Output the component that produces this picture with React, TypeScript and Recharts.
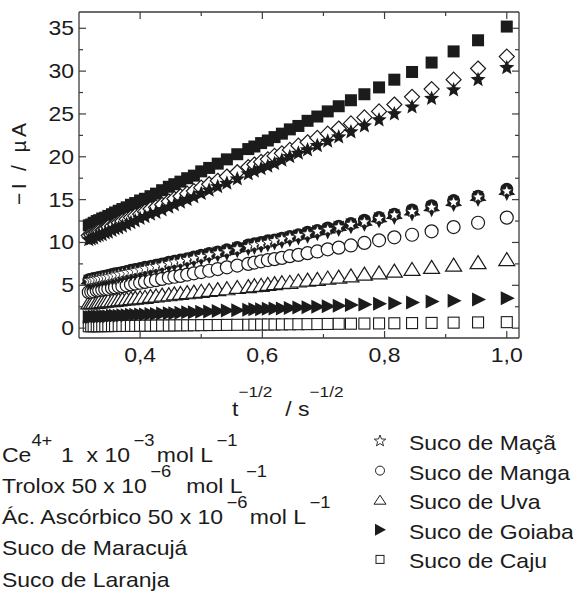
import React from "react";
import { ScatterChart, Scatter, XAxis, YAxis, ReferenceLine } from "recharts";

// t^-1/2 (s^-1/2), from t = 1 s down to t = 10 s
const xVals = [
  1.0, 0.953, 0.913, 0.877, 0.845, 0.816, 0.791, 0.767, 0.745, 0.725, 0.707, 0.69, 0.674, 0.659, 0.645, 0.632, 0.62,
  0.609, 0.598, 0.587, 0.577, 0.559, 0.542, 0.527, 0.513, 0.5, 0.488, 0.477, 0.466, 0.456, 0.447, 0.436, 0.426, 0.417,
  0.408, 0.4, 0.392, 0.385, 0.378, 0.371, 0.365, 0.359, 0.354, 0.348, 0.343, 0.338, 0.333, 0.329, 0.324, 0.32, 0.316,
];

// -I (µA)
const ce = [
  35.2, 33.6, 32.3, 31.0, 29.9, 29.0, 28.1, 27.3, 26.6, 25.9, 25.3, 24.7, 24.2, 23.6, 23.2, 22.7, 22.3, 21.9, 21.6,
  21.2, 20.9, 20.3, 19.7, 19.2, 18.7, 18.3, 17.8, 17.5, 17.1, 16.8, 16.5, 16.1, 15.7, 15.4, 15.1, 14.9, 14.6, 14.4,
  14.1, 13.9, 13.7, 13.5, 13.3, 13.1, 12.9, 12.8, 12.6, 12.5, 12.3, 12.1, 12.0,
];
const trolox = [
  31.7, 30.3, 29.0, 27.9, 27.0, 26.1, 25.3, 24.6, 23.9, 23.3, 22.7, 22.2, 21.7, 21.3, 20.8, 20.4, 20.1, 19.7, 19.4,
  19.1, 18.8, 18.2, 17.7, 17.2, 16.8, 16.4, 16.0, 15.7, 15.4, 15.1, 14.8, 14.4, 14.1, 13.9, 13.6, 13.3, 13.1, 12.9,
  12.7, 12.5, 12.3, 12.1, 11.9, 11.8, 11.6, 11.4, 11.3, 11.2, 11.0, 10.9, 10.8,
];
const ascorbico = [
  30.4, 29.0, 27.8, 26.8, 25.8, 25.0, 24.3, 23.6, 22.9, 22.3, 21.8, 21.3, 20.8, 20.4, 20.0, 19.6, 19.2, 18.9, 18.6,
  18.3, 18.0, 17.4, 16.9, 16.5, 16.1, 15.7, 15.3, 15.0, 14.7, 14.4, 14.1, 13.8, 13.5, 13.3, 13.0, 12.8, 12.5, 12.3,
  12.1, 11.9, 11.7, 11.6, 11.4, 11.2, 11.1, 10.9, 10.8, 10.7, 10.5, 10.4, 10.3,
];
const maracuja = [
  16.2, 15.4, 14.9, 14.3, 13.8, 13.3, 12.9, 12.6, 12.2, 11.9, 11.7, 11.4, 11.2, 10.9, 10.7, 10.5, 10.3, 10.2, 10.0,
  9.85, 9.7, 9.4, 9.15, 8.9, 8.7, 8.5, 8.3, 8.1, 7.95, 7.8, 7.7, 7.5, 7.35, 7.2, 7.1, 6.95, 6.85, 6.75, 6.6, 6.5, 6.4,
  6.35, 6.25, 6.15, 6.05, 6.0, 5.9, 5.85, 5.8, 5.7, 5.65,
];
const laranja = [
  15.9, 15.2, 14.6, 14.0, 13.5, 13.1, 12.7, 12.3, 12.0, 11.7, 11.4, 11.2, 10.9, 10.7, 10.5, 10.3, 10.1, 9.9, 9.75,
  9.6, 9.45, 9.2, 8.9, 8.7, 8.5, 8.3, 8.1, 7.9, 7.75, 7.6, 7.45, 7.3, 7.15, 7.0, 6.85, 6.75, 6.6, 6.5, 6.4, 6.3, 6.2,
  6.1, 6.05, 5.95, 5.85, 5.8, 5.7, 5.65, 5.6, 5.5, 5.45,
];
const maca = [
  16.0, 15.3, 14.7, 14.1, 13.6, 13.2, 12.8, 12.4, 12.1, 11.8, 11.5, 11.3, 11.0, 10.8, 10.6, 10.4, 10.2, 10.0, 9.85,
  9.7, 9.5, 9.25, 9.0, 8.75, 8.55, 8.35, 8.15, 8.0, 7.8, 7.7, 7.55, 7.35, 7.2, 7.1, 6.95, 6.8, 6.7, 6.6, 6.5, 6.4, 6.3,
  6.2, 6.1, 6.0, 5.95, 5.9, 5.8, 5.75, 5.65, 5.6, 5.55,
];
const manga = [
  12.9, 12.3, 11.8, 11.3, 10.9, 10.6, 10.25, 9.95, 9.65, 9.4, 9.2, 8.95, 8.75, 8.55, 8.4, 8.2, 8.05, 7.95, 7.8, 7.65,
  7.5, 7.3, 7.1, 6.9, 6.7, 6.55, 6.4, 6.25, 6.1, 6.0, 5.9, 5.75, 5.6, 5.5, 5.4, 5.3, 5.2, 5.1, 5.0, 4.9, 4.85, 4.75,
  4.7, 4.6, 4.55, 4.5, 4.45, 4.4, 4.3, 4.25, 4.2,
];
const uva = [
  8.0, 7.65, 7.35, 7.1, 6.85, 6.65, 6.45, 6.3, 6.1, 5.95, 5.85, 5.7, 5.6, 5.5, 5.35, 5.3, 5.2, 5.1, 5.0, 4.95, 4.85,
  4.75, 4.6, 4.5, 4.4, 4.3, 4.2, 4.15, 4.05, 4.0, 3.9, 3.85, 3.75, 3.7, 3.6, 3.55, 3.5, 3.45, 3.4, 3.35, 3.3, 3.25,
  3.2, 3.2, 3.15, 3.1, 3.05, 3.0, 3.0, 2.95, 2.95,
];
const goiaba = [
  3.5, 3.35, 3.2, 3.1, 3.0, 2.9, 2.85, 2.75, 2.7, 2.6, 2.55, 2.5, 2.45, 2.4, 2.35, 2.3, 2.3, 2.25, 2.2, 2.2, 2.15, 2.1,
  2.05, 2.0, 1.95, 1.9, 1.85, 1.85, 1.8, 1.75, 1.75, 1.7, 1.65, 1.65, 1.6, 1.6, 1.55, 1.55, 1.5, 1.5, 1.45, 1.45, 1.45,
  1.4, 1.4, 1.4, 1.35, 1.35, 1.35, 1.3, 1.3,
];
const caju = [
  0.7, 0.67, 0.64, 0.61, 0.59, 0.57, 0.55, 0.54, 0.52, 0.51, 0.49, 0.48, 0.47, 0.46, 0.45, 0.44, 0.43, 0.43, 0.42,
  0.41, 0.4, 0.39, 0.38, 0.37, 0.36, 0.35, 0.34, 0.33, 0.33, 0.32, 0.31, 0.31, 0.3, 0.29, 0.29, 0.28, 0.27, 0.27, 0.26,
  0.26, 0.26, 0.25, 0.25, 0.24, 0.24, 0.24, 0.23, 0.23, 0.23, 0.22, 0.22,
];

const xTicks = [0.4, 0.5, 0.6, 0.7, 0.8, 0.9, 1.0];
const xMajor = [0.4, 0.6, 0.8, 1.0];
const yTicks = [0, 2.5, 5, 7.5, 10, 12.5, 15, 17.5, 20, 22.5, 25, 27.5, 30, 32.5, 35];

const INK = "#1b1b1b";
const AXIS = "#3c3c3c";
const FONT = '"Liberation Sans", Arial, Helvetica, sans-serif';
const TOP = 12;
const BOTTOM = 338;
const LEFT = 79;
const RIGHT = 519;
const SX = 1.15; // text in the original is a bit wide

const toPoints = (ys: number[]) => xVals.map((x, i) => ({ x, y: ys[i] })).reverse();

const starPath = (cx: number, cy: number, R: number, r: number, rot = 0) => {
  const pts: string[] = [];
  for (let i = 0; i < 10; i++) {
    const rad = i % 2 === 0 ? R : r;
    const a = -Math.PI / 2 + rot + (i * Math.PI) / 5;
    pts.push(`${(cx + rad * Math.cos(a)).toFixed(2)},${(cy + rad * Math.sin(a)).toFixed(2)}`);
  }
  return `M${pts.join("L")}Z`;
};

const FilledSquare = ({ cx, cy }: any) => <rect x={cx - 6} y={cy - 6} width={12} height={12} fill={INK} />;
const OpenDiamond = ({ cx, cy }: any) => (
  <path d={`M${cx},${cy - 7.5}L${cx + 7.5},${cy}L${cx},${cy + 7.5}L${cx - 7.5},${cy}Z`} fill="#fff" stroke={INK} strokeWidth={1.2} />
);
const FilledStar = ({ cx, cy }: any) => <path d={starPath(cx, cy, 8, 3.5)} fill={INK} />;
const DownStar = ({ cx, cy }: any) => <path d={starPath(cx, cy, 9, 4.5, Math.PI)} fill={INK} />;
const FilledDot = ({ cx, cy }: any) => <circle cx={cx} cy={cy} r={6.5} fill={INK} />;
const OpenStar = ({ cx, cy }: any) => <path d={starPath(cx, cy, 6, 2.6)} fill="#fff" stroke={INK} strokeWidth={0.8} />;
const OpenCircle = ({ cx, cy }: any) => <circle cx={cx} cy={cy} r={6.5} fill="#fff" stroke={INK} strokeWidth={1.2} />;
const OpenTriangle = ({ cx, cy }: any) => (
  <path d={`M${cx},${cy - 7}L${cx + 8},${cy + 6}L${cx - 8},${cy + 6}Z`} fill="#fff" stroke={INK} strokeWidth={1.2} />
);
const RightTriangle = ({ cx, cy }: any) => (
  <path d={`M${cx - 6},${cy - 7}L${cx + 8},${cy}L${cx - 6},${cy + 7}Z`} fill={INK} />
);
const OpenSquare = ({ cx, cy }: any) => (
  <rect x={cx - 5.5} y={cy - 5.5} width={11} height={11} fill="#fff" stroke={INK} strokeWidth={1.1} />
);

function SText({ x, y, size = 20, anchor = "start", children }: any) {
  return (
    <text
      x={x / SX}
      y={y}
      transform={`scale(${SX} 1)`}
      fontSize={size}
      textAnchor={anchor}
      fontFamily={FONT}
      fill={INK}
      style={{ whiteSpace: "pre" }}
    >
      {children}
    </text>
  );
}

const XTick = ({ x, payload }: any) => {
  const v = payload.value;
  const major = xMajor.includes(v);
  const len = major ? 7 : 4;
  return (
    <g>
      <line x1={x} x2={x} y1={BOTTOM} y2={BOTTOM - len} stroke={AXIS} strokeWidth={1.2} />
      <line x1={x} x2={x} y1={TOP} y2={TOP + len} stroke={AXIS} strokeWidth={1.2} />
      {major && (
        <SText x={x} y={362} anchor="middle">
          {v.toFixed(1).replace(".", ",")}
        </SText>
      )}
    </g>
  );
};

const YTick = ({ y, payload }: any) => {
  const v = payload.value;
  const major = v % 5 === 0;
  const len = major ? 7 : 4;
  return (
    <g>
      <line x1={LEFT} x2={LEFT + len} y1={y} y2={y} stroke={AXIS} strokeWidth={1.2} />
      <line x1={RIGHT} x2={RIGHT - len} y1={y} y2={y} stroke={AXIS} strokeWidth={1.2} />
      {major && (
        <SText x={74} y={y + 7} anchor="end">
          {String(v)}
        </SText>
      )}
    </g>
  );
};

const Sup = ({ gap = 0, children }: any) => (
  <tspan dy={-16} dx={gap} fontSize={16}>
    {children}
  </tspan>
);
const Down = ({ gap = 2, children }: any) => (
  <tspan dy={16} dx={gap}>
    {children}
  </tspan>
);

const rightLegend = [
  { name: "Suco de Maçã", icon: "star" },
  { name: "Suco de Manga", icon: "circle" },
  { name: "Suco de Uva", icon: "triangle" },
  { name: "Suco de Goiaba", icon: "right" },
  { name: "Suco de Caju", icon: "square" },
];

const LegendIcon = ({ icon, cx, cy }: any) => {
  if (icon === "star") return <path d={starPath(cx, cy, 6, 2.5)} fill="none" stroke={INK} strokeWidth={0.9} />;
  if (icon === "circle") return <circle cx={cx} cy={cy} r={4.5} fill="none" stroke={INK} strokeWidth={1} />;
  if (icon === "triangle")
    return <path d={`M${cx},${cy - 5}L${cx + 6},${cy + 4}L${cx - 6},${cy + 4}Z`} fill="none" stroke={INK} strokeWidth={1} />;
  if (icon === "right") return <path d={`M${cx - 5},${cy - 6}L${cx + 6},${cy}L${cx - 5},${cy + 6}Z`} fill={INK} />;
  return <rect x={cx - 4} y={cy - 4} width={8} height={8} fill="none" stroke={INK} strokeWidth={1} />;
};

export default function App() {
  return (
    <div style={{ position: "absolute", left: 0, top: 0, width: 573, height: 598, background: "#fff" }}>
      <ScatterChart width={573} height={420} margin={{ top: TOP, right: 573 - RIGHT, bottom: 22, left: 0 }}>
        <XAxis
          type="number"
          dataKey="x"
          domain={[0.3, 1.02]}
          allowDataOverflow
          ticks={xTicks}
          interval={0}
          height={60}
          tickLine={false}
          axisLine={{ stroke: AXIS, strokeWidth: 1.3 }}
          tick={<XTick />}
        />
        <YAxis
          type="number"
          dataKey="y"
          domain={[-1.15, 36.9]}
          allowDataOverflow
          ticks={yTicks}
          interval={0}
          width={LEFT}
          tickLine={false}
          axisLine={{ stroke: AXIS, strokeWidth: 1.3 }}
          tick={<YTick />}
        />
        <ReferenceLine y={36.9} stroke={AXIS} strokeWidth={1.3} />
        <ReferenceLine x={1.02} stroke={AXIS} strokeWidth={1.3} />
        <Scatter data={toPoints(caju)} shape={OpenSquare} isAnimationActive={false} />
        <Scatter data={toPoints(goiaba)} shape={RightTriangle} isAnimationActive={false} />
        <Scatter data={toPoints(uva)} shape={OpenTriangle} isAnimationActive={false} />
        <Scatter data={toPoints(manga)} shape={OpenCircle} isAnimationActive={false} />
        <Scatter data={toPoints(laranja)} shape={DownStar} isAnimationActive={false} />
        <Scatter data={toPoints(maracuja)} shape={FilledDot} isAnimationActive={false} />
        <Scatter data={toPoints(maca)} shape={OpenStar} isAnimationActive={false} />
        <Scatter data={toPoints(ce)} shape={FilledSquare} isAnimationActive={false} />
        <Scatter data={toPoints(trolox)} shape={OpenDiamond} isAnimationActive={false} />
        <Scatter data={toPoints(ascorbico)} shape={FilledStar} isAnimationActive={false} />
      </ScatterChart>

      <svg width={573} height={598} style={{ position: "absolute", left: 0, top: 0, pointerEvents: "none" }}>
        {/* axis titles */}
        <text
          transform="rotate(-90)"
          x={-164}
          y={26}
          fontSize={21}
          fontFamily={FONT}
          fill={INK}
          textAnchor="middle"
          textLength={82}
          lengthAdjust="spacing"
        >
          −I / µA
        </text>
        <SText x={232} y={416}>
          t
          <tspan dy={-19} fontSize={15}>
            −1/2
          </tspan>
          <tspan dy={19}>{"  / s"}</tspan>
          <tspan dy={-19} fontSize={15}>
            −1/2
          </tspan>
        </SText>

        {/* legend, left column */}
        <SText x={2} y={462}>
          Ce<Sup>4+</Sup>
          <Down>{" 1  x 10"}</Down>
          <Sup gap={3}>−3</Sup>
          <Down>mol L</Down>
          <Sup gap={3}>−1</Sup>
        </SText>
        <SText x={2} y={493}>
          {"Trolox 50 x 10"}
          <Sup gap={3}>−6</Sup>
          <Down>{"  mol L"}</Down>
          <Sup gap={3}>−1</Sup>
        </SText>
        <SText x={2} y={524}>
          {"Ác. Ascórbico 50 x 10"}
          <Sup gap={3}>−6</Sup>
          <Down>{"mol L"}</Down>
          <Sup gap={3}>−1</Sup>
        </SText>
        <SText x={2} y={555}>
          Suco de Maracujá
        </SText>
        <SText x={2} y={587}>
          Suco de Laranja
        </SText>

        {/* legend, right column */}
        {rightLegend.map((item, i) => (
          <g key={item.name}>
            <LegendIcon icon={item.icon} cx={380} cy={441 + i * 29.6} />
            <SText x={409} y={450 + i * 29.6}>
              {item.name}
            </SText>
          </g>
        ))}
      </svg>
    </div>
  );
}
